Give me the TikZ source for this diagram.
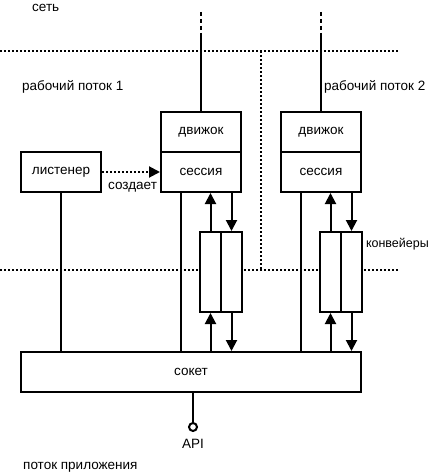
\documentclass[tikz,border=0pt]{standalone}
\usepackage{fontspec}
\setmainfont{Liberation Sans}
\usetikzlibrary{arrows.meta}
\tikzset{
	box/.style={draw, line width=2pt, fill=white, minimum width=80pt, minimum height=40pt, inner sep=0pt, font=\fontsize{13.5}{16}\selectfont},
	pipe/.style={draw, line width=2pt, fill=white, minimum width=21pt, minimum height=80pt, inner sep=0pt},
	wire/.style={line width=2pt},
	flow/.style={line width=2pt, -{Triangle[length=11pt,width=11pt]}},
	border/.style={line width=2pt, dotted},
	lbl/.style={inner sep=0pt, font=\fontsize{13.5}{16}\selectfont}
}

\begin{document}
\begin{tikzpicture}[x=1pt, y=-1pt]
			%%%%% START %%%%%
			\useasboundingbox (0,0) rectangle (431,476);
			
			% thread borders
			\draw[border] (0,51) -- (398,51);
			\draw[border] (0,270) -- (398,270);
			\draw[border] (261,51) -- (261,270);
			
			% labels
			\node[lbl, anchor=west] (net) at (32,8) {сеть};
			\node[lbl, anchor=west] (thread1) at (22,87) {рабочий поток 1};
			\node[lbl, anchor=west] (thread2) at (324,87) {рабочий поток 2};
			\node[lbl, anchor=west] (app) at (23,467) {поток приложения};
			
			% boxes
			\node[box] (engine1) at (201,132) {движок};
			\node[box] (session1) at (201,172) {сессия};
			\node[box] (engine2) at (321,132) {движок};
			\node[box] (session2) at (321,172) {сессия};
			\node[box] (listener) at (61,172) {листенер};
			\node[box, minimum width=340pt] (socket) at (191,372) {сокет};
			
			\node[pipe] (pipe1a) at (210.5,272) {};
			\node[pipe] (pipe1b) at (231.5,272) {};
			\node[pipe] (pipe2a) at (330.5,272) {};
			\node[pipe] (pipe2b) at (351.5,272) {};
			\node[lbl, anchor=east, font=\fontsize{12.5}{15}\selectfont] (pipes) at (429,244) {конвейеры};
			
			% network
			\coordinate (net1) at (201,12);
			\coordinate (net1b) at (201,34);
			\coordinate (net2) at (321,12);
			\coordinate (net2b) at (321,34);
			\draw[wire, dash pattern=on 4pt off 3pt] (net1) -- (net1b);
			\draw[wire] (net1b) -- (engine1.north);
			\draw[wire, dash pattern=on 4pt off 3pt] (net2) -- (net2b);
			\draw[wire] (net2b) -- (engine2.north);
			
			% listener creates session
			\draw[flow, dotted] (listener.east) -- (session1.west);
			\node[lbl, anchor=west] (creates) at (108,187) {создает};
			
			% down to socket
			\coordinate (s1) at ([xshift=-20pt]session1.south);
			\coordinate (s2) at ([xshift=-20pt]session2.south);
			\draw[wire] (listener.south) -- (listener.south |- socket.north);
			\draw[wire] (s1) -- (s1 |- socket.north);
			\draw[wire] (s2) -- (s2 |- socket.north);
			
			% pipes 1
			\draw[flow] (pipe1a.north) -- (pipe1a.north |- session1.south);
			\draw[flow] (session1.south -| pipe1b.north) -- (pipe1b.north);
			\draw[flow] (pipe1a.south |- socket.north) -- (pipe1a.south);
			\draw[flow] (pipe1b.south) -- (pipe1b.south |- socket.north);
			
			% pipes 2
			\draw[flow] (pipe2a.north) -- (pipe2a.north |- session2.south);
			\draw[flow] (session2.south -| pipe2b.north) -- (pipe2b.north);
			\draw[flow] (pipe2a.south |- socket.north) -- (pipe2a.south);
			\draw[flow] (pipe2b.south) -- (pipe2b.south |- socket.north);
			
			% api
			\node[circle, draw, line width=2pt, fill=white, minimum size=8pt, inner sep=0pt] (api) at (193,427) {};
			\draw[wire] (socket.south -| api) -- (api);
			\node[lbl] (apilbl) at (193,444) {API};
			
			%%%%% END %%%%%
\end{tikzpicture}
\end{document}
